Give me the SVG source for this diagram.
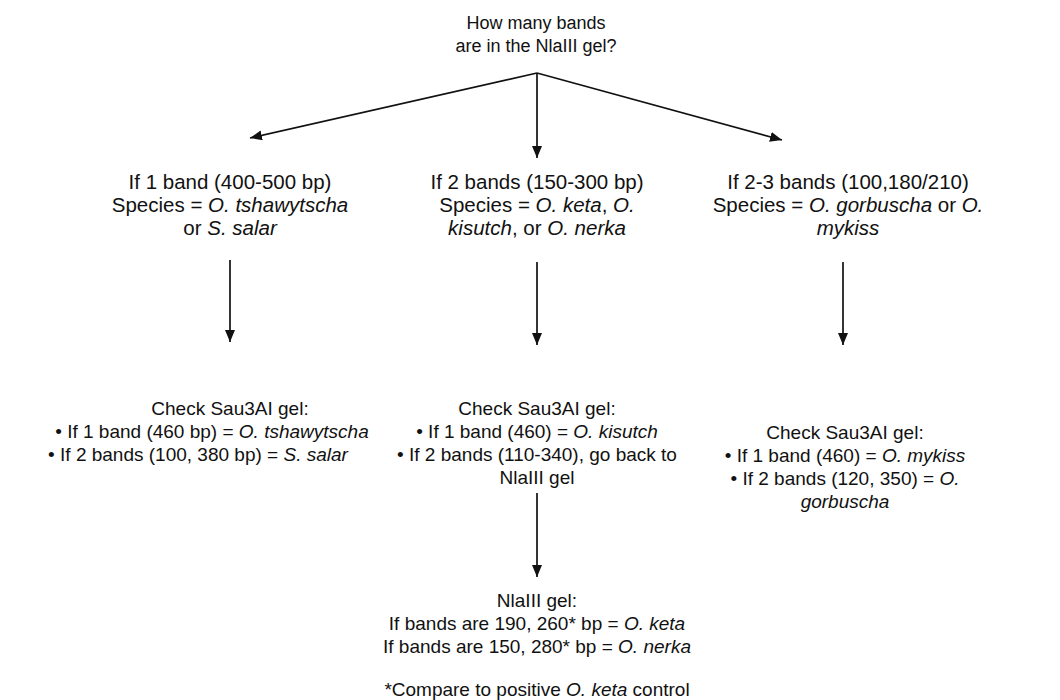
<svg xmlns="http://www.w3.org/2000/svg" width="1060" height="700" viewBox="0 0 1060 700">
<defs>
<marker id="ah" viewBox="0 0 12 10" refX="12" refY="5" markerWidth="12" markerHeight="10" markerUnits="userSpaceOnUse" orient="auto">
<path d="M0,0 L12,5 L0,10 z" fill="#111"/>
</marker>
<style>
text{font-family:"Liberation Sans",Arial,sans-serif;font-size:19px;fill:#111;text-anchor:middle}
.t{font-size:18px}
.r1{font-size:20.5px}
.i{font-style:italic}
.c line{stroke:#111;stroke-width:1.7;marker-end:url(#ah)}
</style>
</defs>
<rect width="1060" height="700" fill="#fff"/>
<g id="q">
<text class="t" x="536" y="29">How many bands</text>
<text class="t" x="536" y="52">are in the NlaIII gel?</text>
</g>
<g id="c1" class="r1">
<text class="r1" x="230" y="189">If 1 band (400-500 bp)</text>
<text class="r1" x="230" y="212">Species = <tspan class="i">O. tshawytscha</tspan></text>
<text class="r1" x="230" y="235">or <tspan class="i">S. salar</tspan></text>
</g>
<g id="c2">
<text class="r1" x="537" y="189">If 2 bands (150-300 bp)</text>
<text class="r1" x="537" y="212">Species = <tspan class="i">O. keta</tspan>, <tspan class="i">O.</tspan></text>
<text class="r1" x="537" y="235"><tspan class="i">kisutch</tspan>, or <tspan class="i">O. nerka</tspan></text>
</g>
<g id="c3">
<text class="r1" x="848" y="189">If 2-3 bands (100,180/210)</text>
<text class="r1" x="848" y="212">Species = <tspan class="i">O. gorbuscha</tspan> or <tspan class="i">O.</tspan></text>
<text class="r1" x="848" y="235"><tspan class="i">mykiss</tspan></text>
</g>
<g id="s1">
<text x="230" y="415">Check Sau3AI gel:</text>
<text x="212" y="438">• If 1 band (460 bp) = <tspan class="i">O. tshawytscha</tspan></text>
<text x="198" y="461">• If 2 bands (100, 380 bp) = <tspan class="i">S. salar</tspan></text>
</g>
<g id="s2">
<text x="537" y="415">Check Sau3AI gel:</text>
<text x="537" y="438">• If 1 band (460) = <tspan class="i">O. kisutch</tspan></text>
<text x="537" y="461">• If 2 bands (110-340), go back to</text>
<text x="537" y="484">NlaIII gel</text>
</g>
<g id="s3">
<text x="845" y="439">Check Sau3AI gel:</text>
<text x="845" y="462">• If 1 band (460) = <tspan class="i">O. mykiss</tspan></text>
<text x="845" y="485">• If 2 bands (120, 350) = <tspan class="i">O.</tspan></text>
<text x="845" y="508"><tspan class="i">gorbuscha</tspan></text>
</g>
<g id="n">
<text x="537" y="607">NlaIII gel:</text>
<text x="537" y="630">If bands are 190, 260* bp = <tspan class="i">O. keta</tspan></text>
<text x="537" y="653">If bands are 150, 280* bp = <tspan class="i">O. nerka</tspan></text>
<text x="537" y="696">*Compare to positive <tspan class="i">O. keta</tspan> control</text>
</g>
<g id="connectors" class="c">
<line x1="537" y1="73" x2="250" y2="138"/>
<line x1="537" y1="73" x2="537" y2="158"/>
<line x1="537" y1="73" x2="782" y2="140"/>
<line x1="230" y1="260" x2="230" y2="342"/>
<line x1="537" y1="262" x2="537" y2="345"/>
<line x1="843" y1="262" x2="843" y2="345"/>
<line x1="537" y1="493" x2="537" y2="577"/>
</g>
</svg>
